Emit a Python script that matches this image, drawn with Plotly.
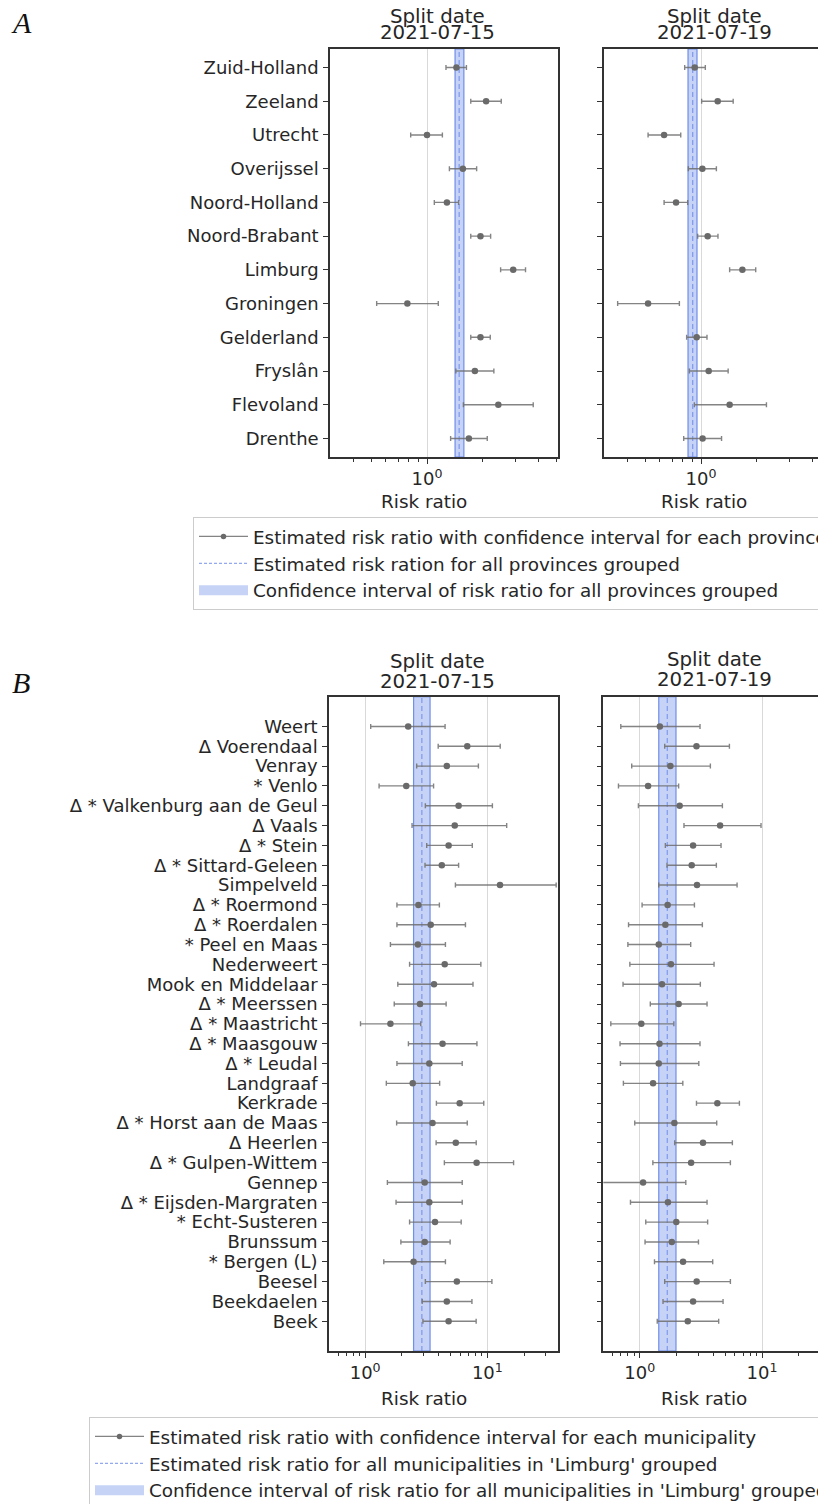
import plotly.graph_objects as go

W, H = 826, 1504
OFF = 8  # the page body adds an 8px margin around the figure
FONT = "DejaVu Sans"
TXT = "#262626"

# ---------------- Panel A data (top to bottom) ----------------
provinces = ["Zuid-Holland", "Zeeland", "Utrecht", "Overijssel", "Noord-Holland",
             "Noord-Brabant", "Limburg", "Groningen", "Gelderland", "Fryslân",
             "Flevoland", "Drenthe"]
a15_rr = [1.44, 2.08, 1.00, 1.56, 1.28, 1.94, 2.91, 0.784, 1.94, 1.81, 2.42, 1.68]
a15_lo = [1.265, 1.72, 0.817, 1.32, 1.095, 1.72, 2.49, 0.536, 1.72, 1.43, 1.57, 1.34]
a15_hi = [1.63, 2.51, 1.21, 1.85, 1.48, 2.20, 3.39, 1.15, 2.19, 2.29, 3.73, 2.11]
a15_group = [1.49, 1.415, 1.58]   # estimate, lower, upper

a19_rr = [0.925, 1.23, 0.633, 1.017, 0.734, 1.086, 1.67, 0.519, 0.948, 1.10, 1.426, 1.02]
a19_lo = [0.817, 1.008, 0.519, 0.855, 0.633, 0.96, 1.426, 0.356, 0.837, 0.866, 0.921, 0.807]
a19_hi = [1.055, 1.49, 0.778, 1.21, 0.848, 1.234, 1.97, 0.765, 1.077, 1.40, 2.25, 1.29]
a19_group = [0.902, 0.851, 0.952]

# ---------------- Panel B data (top to bottom) ----------------
municipalities = ["Weert", "Δ Voerendaal", "Venray", "* Venlo", "Δ * Valkenburg aan de Geul",
                  "Δ Vaals", "Δ * Stein", "Δ * Sittard-Geleen", "Simpelveld", "Δ * Roermond",
                  "Δ * Roerdalen", "* Peel en Maas", "Nederweert", "Mook en Middelaar",
                  "Δ * Meerssen", "Δ * Maastricht", "Δ * Maasgouw", "Δ * Leudal", "Landgraaf",
                  "Kerkrade", "Δ * Horst aan de Maas", "Δ Heerlen", "Δ * Gulpen-Wittem",
                  "Gennep", "Δ * Eijsden-Margraten", "* Echt-Susteren", "Brunssum",
                  "* Bergen (L)", "Beesel", "Beekdaelen", "Beek"]
b15_rr = [2.25, 6.85, 4.66, 2.17, 5.82, 5.41, 4.82, 4.24, 12.7, 2.73, 3.44, 2.70, 4.48, 3.66,
          2.81, 1.61, 4.30, 3.35, 2.45, 5.94, 3.56, 5.52, 8.17, 3.07, 3.35, 3.73, 3.07, 2.49,
          5.63, 4.66, 4.82]
b15_lo = [1.11, 3.96, 2.64, 1.30, 3.11, 2.42, 3.19, 3.09, 5.48, 1.82, 1.82, 1.61, 2.31, 1.85,
          1.73, 0.916, 2.26, 1.82, 1.49, 3.83, 1.81, 3.81, 4.45, 1.52, 1.79, 2.31, 1.96, 1.42,
          3.11, 2.93, 2.97]
b15_hi = [4.51, 12.75, 8.45, 3.63, 11.0, 14.4, 7.53, 5.82, 36.6, 4.05, 6.62, 4.54, 8.85, 7.63,
          4.60, 2.85, 8.22, 6.23, 4.07, 9.35, 6.85, 8.11, 16.4, 6.23, 6.23, 6.11, 4.96, 4.54,
          10.9, 7.48, 8.1]
b15_group = [2.91, 2.49, 3.40]

b19_rr = [1.46, 2.91, 1.78, 1.17, 2.12, 4.54, 2.73, 2.66, 2.94, 1.69, 1.62, 1.43, 1.80, 1.52,
          2.08, 1.03, 1.45, 1.43, 1.285, 4.31, 1.92, 3.29, 2.63, 1.065, 1.70, 1.99, 1.83, 2.26,
          2.92, 2.73, 2.47]
b19_lo = [0.70, 1.60, 0.86, 0.67, 0.975, 2.30, 1.62, 1.67, 1.43, 1.045, 0.81, 0.80, 0.83, 0.73,
          1.22, 0.58, 0.69, 0.695, 0.735, 2.91, 0.91, 1.93, 1.28, 0.48, 0.84, 1.12, 1.105, 1.32,
          1.60, 1.55, 1.39]
b19_hi = [3.11, 5.41, 3.78, 2.08, 4.74, 9.81, 4.62, 4.23, 6.25, 2.80, 3.25, 2.61, 4.05, 3.13,
          3.55, 1.90, 3.11, 3.04, 2.25, 6.53, 4.26, 5.72, 5.51, 2.38, 3.55, 3.59, 3.02, 3.95,
          5.51, 4.80, 4.42]
b19_group = [1.68, 1.43, 1.98]

split_dates = ["2021-07-15", "2021-07-19"]
legend_a = ["Estimated risk ratio with confidence interval for each province",
            "Estimated risk ration for all provinces grouped",
            "Confidence interval of risk ratio for all provinces grouped"]
legend_b = ["Estimated risk ratio with confidence interval for each municipality",
            "Estimated risk ratio for all municipalities in 'Limburg' grouped",
            "Confidence interval of risk ratio for all municipalities in 'Limburg' grouped"]

BAND_FILL = "rgba(65,105,225,0.30)"
BAND_EDGE = "rgba(65,105,225,0.70)"
DASH_COL = "rgba(110,140,235,0.75)"
BAR_COL = "rgba(110,110,110,0.85)"
PT_COL = "#6a6a6a"


def fx(p):
    return (p - OFF) / W


def fy(p):
    return 1 - (p - OFF) / H


fig = go.Figure()


def add_panel(names, rr, lo, hi, group, ax):
    n = len(names)
    ypos = [n - 1 - i for i in range(n)]
    ymin, ymax = -0.05 * (n - 1), (n - 1) * 1.05
    g, glo, ghi = group
    fig.add_trace(go.Scatter(
        x=[glo, ghi, ghi, glo, glo], y=[ymin, ymin, ymax, ymax, ymin],
        mode="lines", fill="toself", fillcolor=BAND_FILL,
        line=dict(color=BAND_EDGE, width=1.2), showlegend=False,
        xaxis="x" + ax, yaxis="y" + ax, hoverinfo="skip"))
    fig.add_trace(go.Scatter(
        x=[g, g], y=[ymin, ymax], mode="lines",
        line=dict(color=DASH_COL, width=1.3, dash="5px,3px"), showlegend=False,
        xaxis="x" + ax, yaxis="y" + ax, hoverinfo="skip"))
    fig.add_trace(go.Scatter(
        x=rr, y=ypos, mode="markers",
        marker=dict(size=6.5, color=PT_COL),
        error_x=dict(type="data", symmetric=False,
                     array=[h - r for h, r in zip(hi, rr)],
                     arrayminus=[r - l for r, l in zip(rr, lo)],
                     color=BAR_COL, thickness=1.4, width=2.5),
        showlegend=False, xaxis="x" + ax, yaxis="y" + ax))
    return ypos, ymin, ymax


def add_legend_entries(labels, legend, ax):
    # legend-only entries (no data points) styled like the reference handles
    fig.add_trace(go.Scatter(
        x=[None], y=[None], mode="lines+markers", name=labels[0], legend=legend,
        line=dict(color=BAR_COL, width=1.3), marker=dict(size=5.5, color=PT_COL),
        xaxis="x" + ax, yaxis="y" + ax))
    fig.add_trace(go.Scatter(
        x=[None], y=[None], mode="lines", name=labels[1], legend=legend,
        line=dict(color=DASH_COL, width=1.3, dash="3px,2px"),
        xaxis="x" + ax, yaxis="y" + ax))
    fig.add_trace(go.Scatter(
        x=[None], y=[None], mode="lines", name=labels[2], legend=legend,
        line=dict(color=BAND_FILL, width=13),
        xaxis="x" + ax, yaxis="y" + ax))


panels = [
    ("", provinces, a15_rr, a15_lo, a15_hi, a15_group),
    ("2", provinces, a19_rr, a19_lo, a19_hi, a19_group),
    ("3", municipalities, b15_rr, b15_lo, b15_hi, b15_group),
    ("4", municipalities, b19_rr, b19_lo, b19_hi, b19_group),
]

# screen-pixel geometry of each axes box: left, right, top, bottom, x log-range
geom = {
    "": (330, 558, 49, 457, [-0.522, 0.705]),
    "2": (604, 832, 49, 457, [-0.522, 0.705]),
    "3": (329, 557.7, 696.7, 1351, [-0.296, 1.576]),
    "4": (603.3, 832, 696.7, 1351, [-0.298, 1.572]),
}
minor_a = [0.3, 0.4, 0.5, 0.6, 0.7, 0.8, 0.9, 2, 3, 4, 5]
minor_b = [0.5, 0.6, 0.7, 0.8, 0.9, 2, 3, 4, 5, 6, 7, 8, 9, 20, 30]

for ax, names, rr, lo, hi, grp in panels:
    ypos, ymin, ymax = add_panel(names, rr, lo, hi, grp, ax)
    l, r, t, b, xr = geom[ax]
    is_left = ax in ("", "3")
    is_a = ax in ("", "2")
    major = [1] if is_a else [1, 10]
    yax = dict(
        range=[ymin, ymax], domain=[fy(b), fy(t)], anchor="x" + ax,
        tickmode="array", tickvals=ypos, showticklabels=is_left,
        ticks="outside", ticklen=5, tickwidth=1.2, tickcolor="#333",
        showgrid=False, zeroline=False,
        showline=True, linecolor="#333", linewidth=1.5, mirror=True,
        tickfont=dict(family=FONT, size=18, color=TXT),
        ticklabelstandoff=1,
    )
    if is_left:
        yax["ticktext"] = names
    fig.update_layout({
        "xaxis" + ax: dict(
            type="log", range=xr, domain=[fx(l), fx(r)], anchor="y" + ax,
            tickmode="array", tickvals=major,
            ticktext=["10<sup>%d</sup>" % i for i in range(len(major))],
            ticks="outside", ticklen=5, tickwidth=1.2, tickcolor="#333",
            showgrid=True, gridcolor="#d9d9d9", gridwidth=1,
            minor=dict(tickmode="array", tickvals=minor_a if is_a else minor_b,
                       ticks="outside", ticklen=3, tickwidth=1, tickcolor="#333",
                       showgrid=False),
            showline=True, linecolor="#333", linewidth=1.5, mirror=True,
            zeroline=False, tickfont=dict(family=FONT, size=18, color=TXT),
        ),
        "yaxis" + ax: yax,
    })

add_legend_entries(legend_a, "legend", "")
add_legend_entries(legend_b, "legend2", "3")

annotations = []
title_pos = [
    (437, 16, 33, split_dates[0]), (714, 16, 33, split_dates[1]),
    (437, 661, 681, split_dates[0]), (714, 659, 679, split_dates[1]),
]
for cx, y1, y2, d in title_pos:
    for txt, yy in (("Split date", y1), (d, y2)):
        annotations.append(dict(text=txt, x=fx(cx), y=fy(yy), xref="paper", yref="paper",
                                showarrow=False, xanchor="center", yanchor="middle",
                                font=dict(family=FONT, size=19.8, color=TXT)))
for cx, cy in [(424, 501.7), (704, 501.7), (424, 1398), (704, 1398)]:
    annotations.append(dict(text="Risk ratio", x=fx(cx), y=fy(cy), xref="paper", yref="paper",
                            showarrow=False, xanchor="center", yanchor="middle",
                            font=dict(family=FONT, size=18.4, color=TXT)))
for letter, cx, cy in [("A", 21, 23), ("B", 21, 682)]:
    annotations.append(dict(text="<i>%s</i>" % letter, x=fx(cx), y=fy(cy),
                            xref="paper", yref="paper", showarrow=False,
                            xanchor="center", yanchor="middle",
                            font=dict(family="Liberation Serif", size=30, color="#111")))

legend_style = dict(xanchor="left", yanchor="top", bgcolor="white",
                    bordercolor="#cccccc", borderwidth=1, itemwidth=49,
                    tracegroupgap=0, traceorder="normal",
                    font=dict(family=FONT, size=18.4, color=TXT))

fig.update_layout(
    width=W, height=H, paper_bgcolor="white", plot_bgcolor="white",
    margin=dict(l=0, r=0, t=0, b=0, autoexpand=False),
    annotations=annotations,
    legend=dict(x=fx(193), y=fy(517), **legend_style),
    legend2=dict(x=fx(89), y=fy(1417), **legend_style),
    font=dict(family=FONT, size=18, color=TXT),
)

fig.write_html("out.html")
